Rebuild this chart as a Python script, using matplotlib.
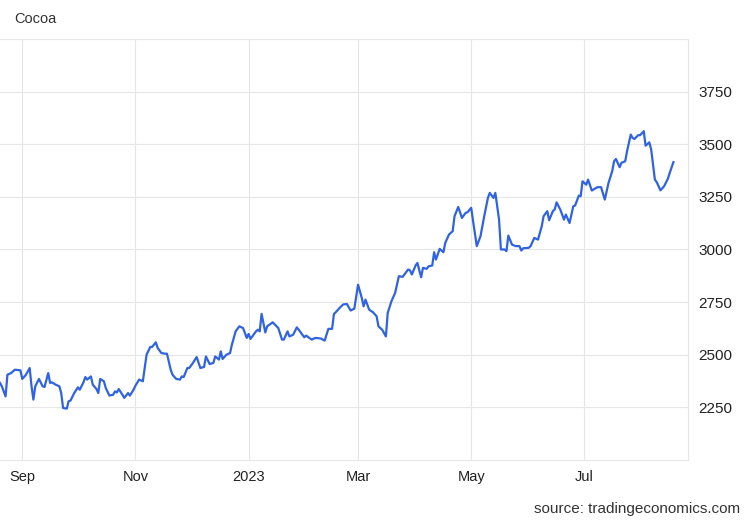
import pandas as pd
import matplotlib
matplotlib.use("Agg")
import matplotlib.pyplot as plt
import matplotlib.dates as mdates

plt.rcParams['font.family'] = ['Liberation Sans', 'DejaVu Sans']

title = "Cocoa"
source = "source: tradingeconomics.com"

dates = [
    "2022-08-20", "2022-08-21", "2022-08-23", "2022-08-24", "2022-08-26", "2022-08-28", "2022-08-31",
    "2022-09-01", "2022-09-03", "2022-09-05", "2022-09-06", "2022-09-07", "2022-09-08", "2022-09-10",
    "2022-09-12", "2022-09-13", "2022-09-15", "2022-09-16", "2022-09-17", "2022-09-19", "2022-09-21",
    "2022-09-22", "2022-09-23", "2022-09-25", "2022-09-26", "2022-09-27", "2022-09-29",
    "2022-10-01", "2022-10-02", "2022-10-04", "2022-10-05", "2022-10-06", "2022-10-08", "2022-10-09",
    "2022-10-11", "2022-10-12", "2022-10-13", "2022-10-15", "2022-10-16", "2022-10-18", "2022-10-20",
    "2022-10-21", "2022-10-22", "2022-10-23", "2022-10-25", "2022-10-26", "2022-10-28", "2022-10-29",
    "2022-10-31",
    "2022-11-01", "2022-11-03", "2022-11-05", "2022-11-06", "2022-11-07", "2022-11-09", "2022-11-10",
    "2022-11-12", "2022-11-13", "2022-11-15", "2022-11-17", "2022-11-18", "2022-11-20", "2022-11-21",
    "2022-11-23", "2022-11-25", "2022-11-26", "2022-11-27", "2022-11-29", "2022-11-30",
    "2022-12-02", "2022-12-04", "2022-12-06", "2022-12-08", "2022-12-09", "2022-12-11", "2022-12-13",
    "2022-12-14", "2022-12-16", "2022-12-17", "2022-12-18", "2022-12-20", "2022-12-22", "2022-12-23",
    "2022-12-25", "2022-12-27", "2022-12-29", "2022-12-31",
    "2023-01-01", "2023-01-02", "2023-01-05", "2023-01-06", "2023-01-07", "2023-01-08", "2023-01-10",
    "2023-01-11", "2023-01-14", "2023-01-17", "2023-01-19", "2023-01-20", "2023-01-22", "2023-01-23",
    "2023-01-25", "2023-01-27", "2023-01-28", "2023-01-31",
    "2023-02-01", "2023-02-04", "2023-02-06", "2023-02-09", "2023-02-11", "2023-02-13", "2023-02-15",
    "2023-02-16", "2023-02-17", "2023-02-19", "2023-02-21", "2023-02-23", "2023-02-25", "2023-02-27",
    "2023-03-01", "2023-03-03", "2023-03-04", "2023-03-05", "2023-03-07", "2023-03-09", "2023-03-11",
    "2023-03-12", "2023-03-14", "2023-03-16", "2023-03-17", "2023-03-19", "2023-03-21", "2023-03-23",
    "2023-03-25", "2023-03-28", "2023-03-29", "2023-03-30",
    "2023-04-01", "2023-04-02", "2023-04-04", "2023-04-05", "2023-04-07", "2023-04-08", "2023-04-10",
    "2023-04-11", "2023-04-12", "2023-04-14", "2023-04-16", "2023-04-17", "2023-04-19", "2023-04-21",
    "2023-04-22", "2023-04-24", "2023-04-26", "2023-04-28", "2023-04-29",
    "2023-05-01", "2023-05-02", "2023-05-04", "2023-05-06", "2023-05-08", "2023-05-10", "2023-05-11",
    "2023-05-13", "2023-05-14", "2023-05-16", "2023-05-17", "2023-05-19", "2023-05-20", "2023-05-21",
    "2023-05-23", "2023-05-25", "2023-05-27", "2023-05-28", "2023-05-29",
    "2023-06-01", "2023-06-02", "2023-06-04", "2023-06-06", "2023-06-08", "2023-06-09", "2023-06-11",
    "2023-06-12", "2023-06-14", "2023-06-15", "2023-06-16", "2023-06-18", "2023-06-20", "2023-06-21",
    "2023-06-23", "2023-06-25", "2023-06-26", "2023-06-28", "2023-06-29", "2023-06-30",
    "2023-07-02", "2023-07-03", "2023-07-05", "2023-07-08", "2023-07-10", "2023-07-12", "2023-07-14",
    "2023-07-16", "2023-07-17", "2023-07-18", "2023-07-20", "2023-07-21", "2023-07-23", "2023-07-24",
    "2023-07-26", "2023-07-27", "2023-07-28", "2023-07-30", "2023-07-31",
    "2023-08-02", "2023-08-03", "2023-08-05", "2023-08-06", "2023-08-08", "2023-08-09", "2023-08-11",
    "2023-08-13", "2023-08-15", "2023-08-16", "2023-08-18",
]

prices = [
    2366, 2350, 2302, 2405, 2413, 2429, 2426,
    2385, 2405, 2437, 2350, 2287, 2350, 2385,
    2350, 2347, 2413, 2366, 2369, 2358, 2350,
    2318, 2247, 2244, 2279, 2282, 2318,
    2345, 2334, 2369, 2394, 2382, 2397, 2358,
    2337, 2318, 2385, 2374, 2342, 2306, 2310,
    2326, 2321, 2337, 2310, 2295, 2318, 2306,
    2334,
    2353, 2382, 2374, 2437, 2500, 2537, 2537,
    2559, 2532, 2508, 2505, 2505, 2429, 2405,
    2385, 2382, 2397, 2394, 2437, 2437,
    2461, 2489, 2437, 2442, 2492, 2456, 2461,
    2492, 2477, 2516, 2480, 2500, 2508, 2548,
    2611, 2635, 2627, 2580,
    2599, 2575, 2611, 2619, 2611, 2694, 2606,
    2635, 2654, 2627, 2572, 2572, 2611, 2587,
    2595, 2630, 2619, 2583,
    2591, 2572, 2580, 2577, 2567, 2623, 2623,
    2694, 2702, 2722, 2739, 2741, 2710, 2719,
    2833, 2770, 2730, 2762, 2714, 2702, 2683,
    2635, 2619, 2587, 2699, 2754, 2794, 2873,
    2870, 2905, 2901, 2881,
    2924, 2936, 2868, 2913, 2908, 2920, 2924,
    2987, 2952, 3003, 2987, 3031, 3071, 3087,
    3158, 3202, 3150, 3174, 3177,
    3198, 3135, 3016, 3063, 3158, 3245, 3269,
    3245, 3269, 3142, 3000, 3000, 2992, 3066,
    3023, 3016, 3016, 2995, 3006,
    3008, 3016, 3055, 3047, 3110, 3158, 3182,
    3139, 3182, 3190, 3224, 3190, 3142, 3166,
    3126, 3205, 3209, 3256, 3253, 3324,
    3308, 3332, 3280, 3296, 3296, 3237, 3316,
    3372, 3419, 3430, 3391, 3412, 3419, 3467,
    3546, 3530, 3525, 3543, 3543,
    3562, 3493, 3509, 3475, 3332, 3320, 3281,
    3301, 3336, 3364, 3415,
]

yticks = [2250, 2500, 2750, 3000, 3250, 3500, 3750]

x = pd.to_datetime(dates)

fig = plt.figure(figsize=(7.5, 5.2), dpi=100)
ax = fig.add_axes([0.0, 0.1154, 0.9177, 0.8096])

ax.plot(x, prices, color='#2f62e4', lw=1.6, solid_joinstyle='round')

ax.set_xlim(pd.Timestamp("2022-08-20"), pd.Timestamp("2023-08-26"))
ax.set_ylim(2000, 4000)

grid_c = '#e6e6e6'
ax.set_yticks(yticks)
ax.yaxis.tick_right()
ax.xaxis.set_major_locator(mdates.MonthLocator(bymonth=[1, 3, 5, 7, 9, 11]))
ax.xaxis.set_major_formatter(
    plt.FuncFormatter(lambda v, p: mdates.num2date(v).strftime('%Y') if mdates.num2date(v).month == 1
                      else mdates.num2date(v).strftime('%b')))
ax.tick_params(axis='both', length=0, colors='#222222')
ax.tick_params(axis='y', pad=7, labelsize=11)
ax.tick_params(axis='x', pad=7, labelsize=10.5)
ax.grid(True, color=grid_c, lw=0.8)
ax.set_axisbelow(True)

for s in ['top', 'right', 'bottom']:
    ax.spines[s].set_color(grid_c)
    ax.spines[s].set_linewidth(0.8)
ax.spines['left'].set_visible(False)

fig.text(14 / 750, 1 - 19 / 520, title, fontsize=10.5, color='#333333', va='center', ha='left')
fig.text(740 / 750, 1 - 509 / 520, source, fontsize=11, color='#333333', va='center', ha='right')

fig.savefig('out.png', dpi=100)
